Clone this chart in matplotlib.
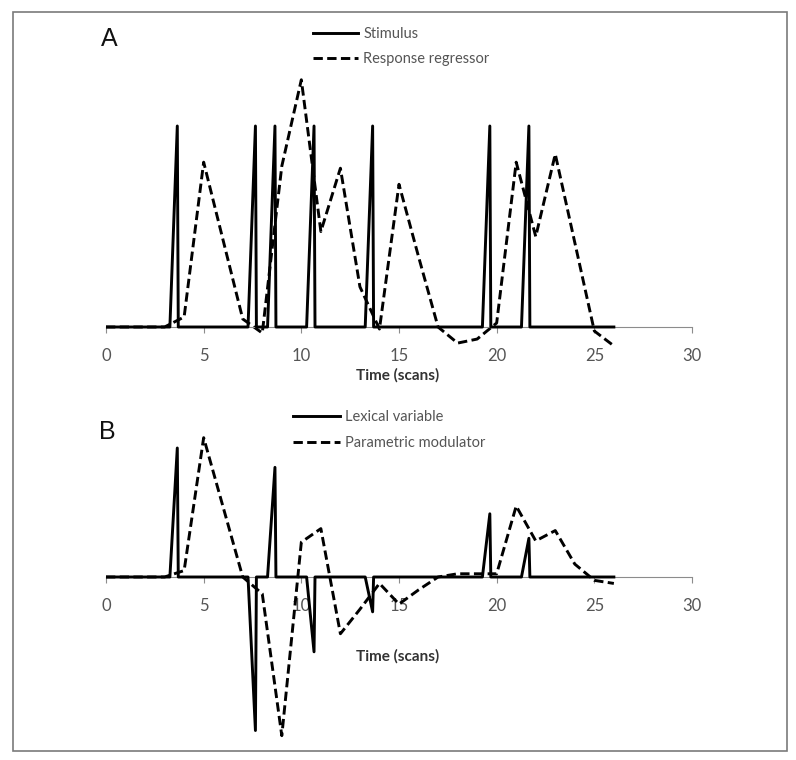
import matplotlib
matplotlib.use("Agg")
import matplotlib.pyplot as plt
from matplotlib.patches import Rectangle

# ---------------- data ----------------
scans = list(range(27))
response_regressor = [0, 0, 0, 0, 0.05, 0.82, 0.43, 0.04, -0.03, 0.80, 1.23, 0.475,
                      0.79, 0.20, -0.01, 0.71, 0.35, 0.0, -0.08, -0.06, 0.02, 0.82,
                      0.45, 0.86, 0.42, -0.02, -0.094]
parametric_modulator = [0, 0, 0, 0, 0.05, 1.08, 0.54, 0.0, -0.13, -1.23, 0.27, 0.375,
                        -0.44, -0.25, -0.05, -0.21, -0.10, 0.0, 0.025, 0.025, 0.025,
                        0.55, 0.28, 0.36, 0.10, -0.026, -0.05]
onsets = [3.67, 7.67, 8.67, 10.67, 13.67, 19.67, 21.67]
stimulus_amp = [1, 1, 1, 1, 1, 1, 1]
lexical_amp = [1.0, -1.19, 0.85, -0.58, -0.27, 0.49, 0.30]
end_scan = 26
xticks = [0, 5, 10, 15, 20, 25, 30]
legend_A = ["Stimulus", "Response regressor"]
legend_B = ["Lexical variable", "Parametric modulator"]
xlabel = "Time (scans)"


def spike_series(ons, amps, end):
    t, v = [0], [0]
    for o, a in zip(ons, amps):
        t += [o - 0.40, o - 0.02, o + 0.03]
        v += [0, a, 0]
    t.append(end)
    v.append(0)
    return t, v


W, H = 796, 760
fig = plt.figure(figsize=(W / 100, H / 100), dpi=100)
FONT = "Lato"
plt.rcParams["font.family"] = [FONT, "DejaVu Sans"]

# outer frame
fig.add_artist(Rectangle((13 / W, 1 - 751 / H), (787 - 13) / W, (751 - 12) / H,
                         transform=fig.transFigure, fill=False,
                         edgecolor="#7a7a7a", linewidth=1.2))

X0, X30 = 106, 692
LW = 2.1


def make_axes(top_px, bottom_px, base_px, unit_px):
    ax = fig.add_axes([X0 / W, 1 - bottom_px / H, (X30 - X0) / W, (bottom_px - top_px) / H])
    ax.set_xlim(0, 30)
    ax.set_ylim(-(bottom_px - base_px) / unit_px, (base_px - top_px) / unit_px)
    for s in ["top", "right", "left"]:
        ax.spines[s].set_visible(False)
    ax.spines["bottom"].set_position(("data", 0))
    ax.spines["bottom"].set_color("#8c8c8c")
    ax.spines["bottom"].set_linewidth(0.8)
    ax.set_yticks([])
    ax.set_xticks(xticks)
    ax.tick_params(axis="x", direction="out", length=4, width=0.8, color="#8c8c8c",
                   labelcolor="#555555", labelsize=12, pad=11)
    ax.patch.set_alpha(0)
    return ax


dash = (3.2, 1.5)

# ---------------- panel A ----------------
axA = make_axes(70, 360, 327, 201)
st_t, st_v = spike_series(onsets, stimulus_amp, end_scan)
lr, = axA.plot(scans, response_regressor, color="black", lw=LW, dashes=dash,
               dash_capstyle="butt", zorder=2, label=legend_A[1])
ls, = axA.plot(st_t, st_v, color="black", lw=LW, zorder=3, label=legend_A[0])
axA.legend(handles=[ls, lr], loc="upper left",
           bbox_to_anchor=(313 / W, 1 - 27 / H), bbox_transform=fig.transFigure,
           frameon=False, fontsize=10.5, handlelength=3.1, handletextpad=0.35,
           labelspacing=0.75, borderpad=0, borderaxespad=0, labelcolor="#555555")

# ---------------- panel B ----------------
axB = make_axes(420, 745, 577, 129)
lx_t, lx_v = spike_series(onsets, lexical_amp, end_scan)
pm, = axB.plot(scans, parametric_modulator, color="black", lw=LW, dashes=dash,
               dash_capstyle="butt", zorder=2, label=legend_B[1])
lx, = axB.plot(lx_t, lx_v, color="black", lw=LW, zorder=3, label=legend_B[0])
axB.legend(handles=[lx, pm], loc="upper left",
           bbox_to_anchor=(293 / W, 1 - 410 / H), bbox_transform=fig.transFigure,
           frameon=False, fontsize=10.5, handlelength=3.2, handletextpad=0.35,
           labelspacing=0.8, borderpad=0, borderaxespad=0, labelcolor="#555555")

# panel letters and axis titles
fig.text(101 / W, 1 - 39 / H, "A", fontsize=18, color="#111111", va="center", ha="left",
         family=["Liberation Sans", "DejaVu Sans"])
fig.text(99 / W, 1 - 432 / H, "B", fontsize=18, color="#111111", va="center", ha="left",
         family=["Liberation Sans", "DejaVu Sans"])
fig.text(398 / W, 1 - 375 / H, xlabel, fontsize=11, fontweight="bold", color="#333333",
         ha="center", va="center")
fig.text(398 / W, 1 - 656 / H, xlabel, fontsize=11, fontweight="bold", color="#333333",
         ha="center", va="center")

fig.savefig("out.png", dpi=100, facecolor="white")
